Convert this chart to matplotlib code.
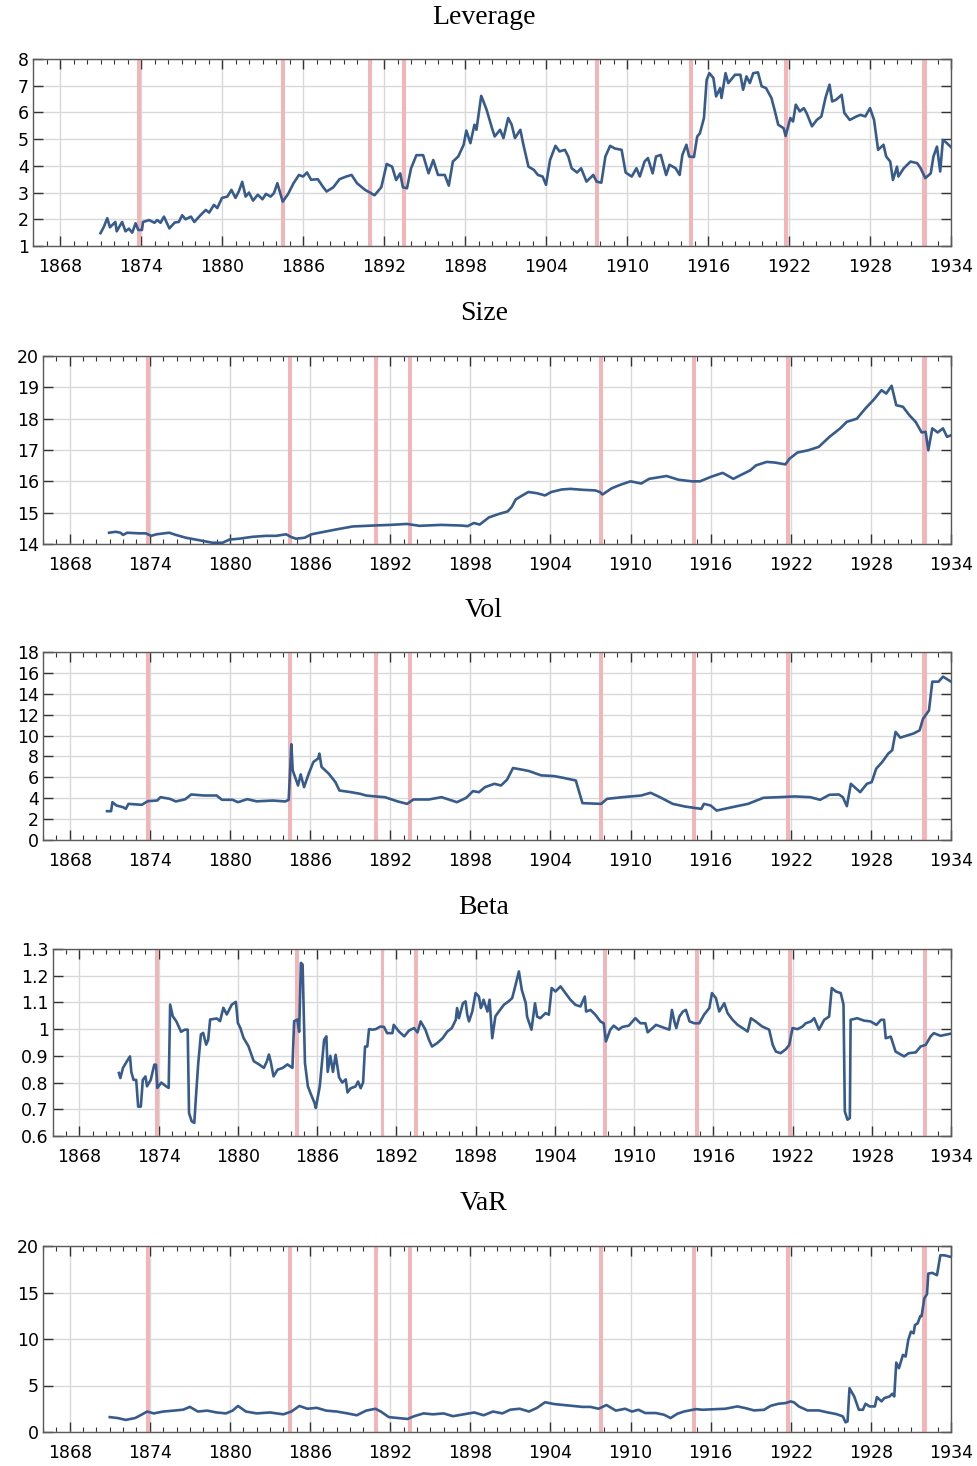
import numpy as np
import matplotlib
matplotlib.use('Agg')
import matplotlib.pyplot as plt
from matplotlib.ticker import MultipleLocator, FuncFormatter

# crisis windows (start, end) in fractional years
crisis_start = [1873.70, 1884.35, 1890.80, 1893.35, 1907.65, 1914.60, 1921.62, 1931.85]
crisis_end   = [1874.02, 1884.65, 1891.10, 1893.65, 1907.95, 1914.90, 1921.95, 1932.22]

# Leverage
lev_year = [1871.0, 1871.25, 1871.5, 1871.7, 1872.1, 1872.2, 1872.6, 1872.85, 1873.1, 1873.35, 1873.6,
            1873.8, 1874.07, 1874.15, 1874.6, 1875.0, 1875.2, 1875.45, 1875.7, 1876.1, 1876.5, 1876.8,
            1877.05, 1877.3, 1877.7, 1877.95, 1878.4, 1878.8, 1879.05, 1879.4, 1879.65, 1880.0, 1880.4,
            1880.7, 1881.0, 1881.25, 1881.5, 1881.75, 1882.0, 1882.3, 1882.65, 1883.0, 1883.25, 1883.6,
            1883.85, 1884.1, 1884.5, 1884.9, 1885.3, 1885.7, 1886.0, 1886.3, 1886.6, 1887.1, 1887.5,
            1887.75, 1888.25, 1888.7, 1889.2, 1889.6, 1890.0, 1890.6, 1890.96, 1891.3, 1891.8, 1892.2,
            1892.6, 1892.9, 1893.2, 1893.4, 1893.7, 1894.0, 1894.4, 1894.9, 1895.3, 1895.65, 1896.0,
            1896.5, 1896.8, 1897.1, 1897.5, 1897.9, 1898.1, 1898.4, 1898.7, 1898.85, 1899.2, 1899.3,
            1899.6, 1900.0, 1900.2, 1900.6, 1900.85, 1901.2, 1901.45, 1901.7, 1902.1, 1902.3, 1902.7,
            1903.1, 1903.4, 1903.75, 1904.0, 1904.3, 1904.7, 1905.0, 1905.4, 1905.65, 1905.9, 1906.3,
            1906.6, 1907.0, 1907.5, 1907.75, 1908.1, 1908.4, 1908.75, 1909.1, 1909.6, 1909.9, 1910.35,
            1910.7, 1910.95, 1911.3, 1911.55, 1911.9, 1912.15, 1912.5, 1912.9, 1913.15, 1913.6, 1913.9,
            1914.1, 1914.4, 1914.6, 1914.96, 1915.2, 1915.4, 1915.7, 1915.9, 1916.1, 1916.4, 1916.6,
            1916.9, 1917.0, 1917.3, 1917.5, 1917.7, 1918.0, 1918.4, 1918.6, 1918.85, 1919.1, 1919.35,
            1919.7, 1919.97, 1920.3, 1920.7, 1920.96, 1921.2, 1921.6, 1921.75, 1922.1, 1922.3, 1922.5,
            1922.8, 1923.1, 1923.3, 1923.7, 1924.06, 1924.4, 1924.7, 1925.0, 1925.2, 1925.5, 1925.9,
            1926.1, 1926.5, 1927.0, 1927.3, 1927.65, 1928.0, 1928.3, 1928.6, 1929.0, 1929.2, 1929.5,
            1929.7, 1930.0, 1930.1, 1930.5, 1931.0, 1931.5, 1931.75, 1932.1, 1932.5, 1932.7, 1932.96,
            1933.2, 1933.4, 1933.7, 1934.0]
lev_val = [1.48, 1.72, 2.04, 1.70, 1.90, 1.55, 1.90, 1.55, 1.65, 1.50, 1.85,
           1.60, 1.60, 1.90, 1.97, 1.87, 1.97, 1.87, 2.10, 1.66, 1.88, 1.90,
           2.15, 2.00, 2.10, 1.90, 2.15, 2.35, 2.25, 2.54, 2.42, 2.80, 2.85,
           3.10, 2.80, 3.05, 3.40, 2.85, 3.00, 2.70, 2.92, 2.75, 2.95, 2.85,
           2.98, 3.35, 2.66, 2.95, 3.35, 3.66, 3.60, 3.75, 3.48, 3.50, 3.20,
           3.04, 3.20, 3.50, 3.60, 3.66, 3.35, 3.10, 3.00, 2.90, 3.20, 4.07,
           3.97, 3.47, 3.72, 3.20, 3.16, 3.90, 4.40, 4.40, 3.72, 4.22, 3.66,
           3.66, 3.26, 4.16, 4.35, 4.79, 5.32, 4.85, 5.54, 5.35, 6.62, 6.50,
           6.10, 5.41, 5.10, 5.35, 5.04, 5.79, 5.55, 5.04, 5.35, 4.85, 3.97,
           3.85, 3.66, 3.60, 3.29, 4.22, 4.75, 4.54, 4.60, 4.35, 3.91, 3.75,
           3.91, 3.41, 3.66, 3.41, 3.37, 4.35, 4.75, 4.65, 4.60, 3.75, 3.60,
           3.91, 3.60, 4.16, 4.29, 3.72, 4.35, 4.41, 3.66, 4.04, 3.91, 3.66,
           4.41, 4.79, 4.35, 4.33, 5.10, 5.22, 5.79, 7.22, 7.47, 7.29, 6.60,
           6.91, 6.54, 7.47, 7.10, 7.22, 7.41, 7.41, 6.85, 7.35, 7.10, 7.47,
           7.50, 6.98, 6.91, 6.54, 6.04, 5.54, 5.41, 5.12, 5.79, 5.66, 6.29,
           6.04, 6.16, 5.98, 5.48, 5.72, 5.85, 6.54, 7.04, 6.41, 6.48, 6.66,
           5.98, 5.72, 5.85, 5.91, 5.85, 6.16, 5.72, 4.60, 4.79, 4.35, 4.16,
           3.47, 3.97, 3.60, 3.91, 4.16, 4.10, 3.91, 3.54, 3.72, 4.35, 4.72,
           3.79, 4.97, 4.85, 4.70]

# Size
size_year = [1870.95, 1871.45, 1871.8, 1872.0, 1872.3, 1873.2, 1873.7, 1874.1, 1874.5, 1875.45, 1875.95,
             1876.7, 1877.7, 1878.7, 1879.45, 1879.95, 1880.7, 1881.7, 1882.7, 1883.45, 1884.2, 1884.6,
             1884.95, 1885.6, 1886.1, 1886.7, 1887.9, 1889.2, 1890.75, 1892.0, 1893.25, 1894.2, 1895.8,
             1897.3, 1897.8, 1898.27, 1898.7, 1899.4, 1900.15, 1900.8, 1901.1, 1901.4, 1901.7, 1902.35,
             1903.0, 1903.6, 1904.07, 1904.85, 1905.5, 1906.4, 1907.36, 1907.7, 1907.9, 1908.6, 1909.24,
             1910.0, 1910.8, 1911.4, 1912.7, 1913.6, 1914.6, 1915.2, 1916.0, 1916.9, 1917.7, 1918.3,
             1918.96, 1919.4, 1920.2, 1920.8, 1921.6, 1921.9, 1922.5, 1923.3, 1924.1, 1924.9, 1925.7,
             1926.2, 1926.95, 1927.6, 1928.2, 1928.8, 1929.15, 1929.55, 1929.9, 1930.4, 1930.9, 1931.35,
             1931.8, 1932.1, 1932.3, 1932.6, 1933.0, 1933.4, 1933.7, 1934.0]
size_val = [14.36, 14.39, 14.36, 14.29, 14.36, 14.34, 14.34, 14.26, 14.31, 14.36, 14.29,
            14.20, 14.12, 14.04, 14.04, 14.14, 14.17, 14.23, 14.26, 14.26, 14.31, 14.22,
            14.17, 14.20, 14.31, 14.36, 14.46, 14.56, 14.59, 14.61, 14.64, 14.58, 14.61,
            14.59, 14.57, 14.67, 14.62, 14.85, 14.96, 15.04, 15.18, 15.42, 15.50, 15.66,
            15.62, 15.55, 15.66, 15.74, 15.76, 15.73, 15.71, 15.66, 15.58, 15.78, 15.89,
            16.00, 15.93, 16.08, 16.17, 16.05, 16.00, 16.00, 16.14, 16.27, 16.08, 16.21,
            16.35, 16.51, 16.62, 16.60, 16.54, 16.72, 16.92, 16.99, 17.10, 17.42, 17.69,
            17.90, 18.00, 18.33, 18.60, 18.91, 18.80, 19.05, 18.43, 18.38, 18.10, 17.90,
            17.56, 17.58, 16.99, 17.69, 17.56, 17.69, 17.42, 17.47]

# Vol
vol_year = [1870.8, 1871.1, 1871.2, 1871.5, 1872.0, 1872.2, 1872.4, 1873.4, 1873.85, 1874.55, 1874.8,
            1875.5, 1875.95, 1876.65, 1877.1, 1878.06, 1879.0, 1879.4, 1880.2, 1880.6, 1881.3, 1882.0,
            1883.2, 1884.14, 1884.4, 1884.6, 1884.7, 1885.1, 1885.3, 1885.55, 1885.9, 1886.25, 1886.6,
            1886.7, 1886.86, 1887.4, 1887.9, 1888.2, 1889.06, 1889.76, 1890.2, 1890.9, 1891.6, 1892.57,
            1893.27, 1893.74, 1894.9, 1895.85, 1897.0, 1897.7, 1898.2, 1898.65, 1899.1, 1899.8, 1900.3,
            1900.75, 1901.2, 1901.9, 1902.4, 1903.3, 1904.27, 1904.97, 1905.9, 1906.4, 1907.8, 1908.24,
            1909.4, 1910.8, 1911.5, 1912.2, 1913.16, 1914.1, 1915.3, 1915.5, 1916.0, 1916.45, 1917.6,
            1918.8, 1919.95, 1921.1, 1922.3, 1923.45, 1924.2, 1924.9, 1925.6, 1925.9, 1926.2, 1926.5,
            1927.2, 1927.7, 1928.06, 1928.4, 1928.85, 1929.3, 1929.6, 1929.85, 1930.2, 1931.2, 1931.65,
            1931.9, 1932.35, 1932.6, 1933.07, 1933.4, 1934.0]
vol_val = [2.76, 2.76, 3.62, 3.30, 3.14, 2.98, 3.46, 3.37, 3.72, 3.78, 4.10,
           3.94, 3.69, 3.90, 4.36, 4.26, 4.26, 3.85, 3.85, 3.62, 3.91, 3.70,
           3.78, 3.69, 3.85, 9.17, 6.67, 5.22, 6.28, 5.06, 6.35, 7.47, 7.80,
           8.27, 7.00, 6.35, 5.54, 4.74, 4.58, 4.42, 4.26, 4.17, 4.10, 3.69,
           3.46, 3.88, 3.88, 4.10, 3.62, 4.04, 4.68, 4.58, 5.06, 5.38, 5.22,
           5.77, 6.89, 6.73, 6.60, 6.19, 6.12, 5.95, 5.70, 3.53, 3.46, 3.94,
           4.10, 4.26, 4.52, 4.10, 3.46, 3.20, 2.98, 3.46, 3.30, 2.82, 3.14,
           3.46, 4.04, 4.10, 4.17, 4.10, 3.85, 4.33, 4.36, 4.10, 3.24, 5.38,
           4.58, 5.38, 5.54, 6.83, 7.47, 8.27, 8.60, 10.35, 9.80, 10.20, 10.50,
           11.60, 12.40, 15.16, 15.16, 15.64, 15.16]

# Beta
beta_year = [1870.99, 1871.1, 1871.3, 1871.6, 1871.83, 1871.93, 1872.1, 1872.3, 1872.45, 1872.65, 1872.8,
             1873.0, 1873.12, 1873.4, 1873.67, 1873.8, 1873.9, 1874.2, 1874.56, 1874.76, 1874.87, 1875.07,
             1875.33, 1875.7, 1875.97, 1876.2, 1876.3, 1876.5, 1876.7, 1876.86, 1877.0, 1877.2, 1877.37,
             1877.6, 1877.75, 1877.9, 1878.4, 1878.65, 1878.9, 1879.16, 1879.54, 1879.85, 1880.0, 1880.18,
             1880.43, 1880.8, 1881.2, 1881.6, 1881.97, 1882.2, 1882.35, 1882.5, 1882.7, 1883.0, 1883.4,
             1883.75, 1884.13, 1884.26, 1884.5, 1884.64, 1884.77, 1884.9, 1885.08, 1885.3, 1885.5, 1885.8,
             1885.9, 1886.2, 1886.53, 1886.7, 1886.8, 1887.0, 1887.2, 1887.4, 1887.66, 1887.9, 1888.17,
             1888.3, 1888.55, 1888.9, 1889.1, 1889.3, 1889.48, 1889.63, 1889.8, 1889.93, 1890.2, 1890.44,
             1890.8, 1891.07, 1891.3, 1891.7, 1891.8, 1892.2, 1892.6, 1892.96, 1893.34, 1893.6, 1893.84,
             1894.2, 1894.47, 1894.7, 1895.1, 1895.5, 1895.86, 1896.2, 1896.5, 1896.6, 1896.74, 1897.04,
             1897.24, 1897.37, 1897.5, 1897.75, 1898.0, 1898.25, 1898.4, 1898.5, 1898.6, 1898.9, 1899.06,
             1899.26, 1899.5, 1899.76, 1900.14, 1900.5, 1900.77, 1901.0, 1901.28, 1901.5, 1901.8, 1901.9,
             1902.23, 1902.5, 1902.66, 1902.9, 1903.3, 1903.55, 1903.76, 1904.05, 1904.43, 1904.8, 1905.18,
             1905.56, 1905.94, 1906.27, 1906.37, 1906.7, 1907.07, 1907.45, 1907.7, 1907.87, 1908.2, 1908.46,
             1908.84, 1909.1, 1909.6, 1910.1, 1910.48, 1910.86, 1911.03, 1911.4, 1911.66, 1912.17, 1912.67,
             1912.87, 1913.05, 1913.2, 1913.43, 1913.7, 1913.93, 1914.2, 1914.56, 1914.94, 1915.3, 1915.7,
             1915.9, 1916.2, 1916.45, 1916.83, 1917.08, 1917.46, 1917.84, 1918.22, 1918.6, 1918.85, 1919.2,
             1919.7, 1920.23, 1920.5, 1920.74, 1921.1, 1921.5, 1921.75, 1922.0, 1922.38, 1922.76, 1923.0,
             1923.4, 1923.64, 1924.0, 1924.4, 1924.77, 1924.97, 1925.28, 1925.65, 1925.86, 1925.96, 1926.16,
             1926.34, 1926.4, 1926.9, 1927.4, 1927.9, 1928.35, 1928.7, 1928.93, 1929.06, 1929.44, 1929.6,
             1929.8, 1930.45, 1930.8, 1931.33, 1931.7, 1932.08, 1932.46, 1932.7, 1933.2, 1933.97]
beta_val = [0.836, 0.817, 0.855, 0.880, 0.898, 0.840, 0.810, 0.810, 0.710, 0.710, 0.810,
            0.823, 0.786, 0.810, 0.867, 0.867, 0.780, 0.800, 0.786, 0.780, 1.092, 1.048,
            1.030, 0.990, 0.998, 0.998, 0.686, 0.655, 0.649, 0.773, 0.873, 0.980, 0.986,
            0.942, 0.960, 1.036, 1.040, 1.030, 1.080, 1.055, 1.092, 1.102, 1.023, 1.005,
            0.967, 0.936, 0.880, 0.868, 0.855, 0.880, 0.905, 0.875, 0.823, 0.848, 0.855,
            0.868, 0.855, 1.030, 1.036, 0.990, 1.248, 1.242, 0.873, 0.786, 0.760, 0.724,
            0.705, 0.786, 0.960, 0.973, 0.840, 0.900, 0.840, 0.904, 0.820, 0.800, 0.812,
            0.763, 0.779, 0.785, 0.804, 0.779, 0.800, 0.935, 0.935, 1.000, 0.998, 1.000,
            1.010, 1.008, 0.985, 0.985, 1.016, 0.991, 0.973, 0.995, 1.004, 0.988, 1.029,
            0.998, 0.960, 0.935, 0.948, 0.966, 0.991, 1.004, 1.035, 1.079, 1.041, 1.097,
            1.104, 1.054, 1.029, 1.066, 1.135, 1.122, 1.079, 1.091, 1.110, 1.066, 1.110,
            0.966, 1.048, 1.066, 1.091, 1.104, 1.116, 1.160, 1.216, 1.147, 1.097, 1.047,
            0.998, 1.097, 1.047, 1.041, 1.060, 1.054, 1.154, 1.141, 1.160, 1.135, 1.110,
            1.091, 1.085, 1.122, 1.066, 1.072, 1.054, 1.029, 1.022, 0.954, 0.998, 1.013,
            0.998, 1.008, 1.013, 1.041, 1.022, 1.022, 0.988, 1.004, 1.016, 1.007, 0.998,
            1.072, 1.029, 1.004, 1.047, 1.066, 1.072, 1.029, 1.022, 1.022, 1.054, 1.079,
            1.135, 1.116, 1.066, 1.097, 1.060, 1.035, 1.016, 1.004, 0.991, 1.041, 1.029,
            1.010, 0.998, 0.941, 0.916, 0.910, 0.925, 0.941, 1.004, 1.000, 1.010, 1.022,
            1.029, 1.041, 0.998, 1.035, 1.047, 1.154, 1.141, 1.135, 1.092, 0.692, 0.661,
            0.667, 1.035, 1.041, 1.032, 1.029, 1.016, 1.035, 1.035, 0.966, 0.972, 0.947,
            0.916, 0.898, 0.910, 0.913, 0.935, 0.941, 0.973, 0.985, 0.975, 0.983]

# VaR
var_year = [1871.0, 1871.6, 1872.2, 1872.9, 1873.3, 1873.8, 1874.3, 1875.0, 1875.8, 1876.5, 1877.0,
            1877.6, 1878.3, 1879.0, 1879.7, 1880.2, 1880.6, 1881.2, 1882.0, 1883.0, 1884.0, 1884.6,
            1885.2, 1885.8, 1886.5, 1887.2, 1888.0, 1888.8, 1889.5, 1890.2, 1890.9, 1891.3, 1891.9,
            1892.6, 1893.3, 1893.8, 1894.5, 1895.2, 1896.0, 1896.7, 1897.5, 1898.3, 1899.0, 1899.7,
            1900.4, 1901.0, 1901.7, 1902.4, 1903.0, 1903.6, 1904.3, 1905.0, 1905.7, 1906.4, 1907.0,
            1907.6, 1908.2, 1908.9, 1909.6, 1910.1, 1910.6, 1911.1, 1911.9, 1912.5, 1913.0, 1913.5,
            1914.0, 1914.9, 1915.4, 1916.4, 1917.1, 1918.0, 1918.6, 1919.25, 1920.0, 1920.5, 1921.1,
            1921.6, 1922.0, 1922.25, 1922.6, 1923.25, 1924.1, 1924.75, 1925.4, 1925.9, 1926.1, 1926.25,
            1926.4, 1926.75, 1927.1, 1927.4, 1927.6, 1927.9, 1928.3, 1928.45, 1928.8, 1929.0, 1929.4,
            1929.6, 1929.75, 1929.9, 1930.1, 1930.4, 1930.6, 1930.8, 1931.0, 1931.2, 1931.3, 1931.5,
            1931.7, 1931.8, 1932.0, 1932.2, 1932.3, 1932.6, 1932.95, 1933.2, 1933.5, 1934.0]
var_val = [1.6, 1.5, 1.3, 1.5, 1.8, 2.2, 2.0, 2.2, 2.3, 2.4, 2.7,
           2.2, 2.3, 2.1, 2.0, 2.3, 2.8, 2.2, 2.0, 2.1, 1.9, 2.2,
           2.8, 2.5, 2.6, 2.3, 2.2, 2.0, 1.8, 2.3, 2.5, 2.2, 1.6,
           1.5, 1.4, 1.7, 2.0, 1.9, 2.0, 1.7, 1.9, 2.1, 1.8, 2.2,
           2.0, 2.4, 2.5, 2.2, 2.6, 3.2, 3.0, 2.9, 2.8, 2.7, 2.7,
           2.5, 2.9, 2.3, 2.5, 2.2, 2.39, 2.04, 2.04, 1.86, 1.50, 1.96,
           2.20, 2.46, 2.39, 2.46, 2.50, 2.75, 2.57, 2.32, 2.39, 2.82, 3.04,
           3.11, 3.29, 3.18, 2.75, 2.32, 2.32, 2.11, 1.93, 1.68, 1.04, 1.14,
           4.71, 3.82, 2.39, 2.39, 3.04, 2.75, 2.75, 3.75, 3.29, 3.64, 3.82,
           4.11, 3.82, 7.46, 6.86, 8.29, 8.11, 9.90, 10.79, 10.61, 11.50, 11.68,
           12.46, 12.46, 14.36, 14.82, 17.04, 17.11, 16.86, 19.00, 19.00, 18.82]

panels = [
    ('Leverage', lev_year, lev_val, (1, 8), 1, [33, 59, 951, 246]),
    ('Size', size_year, size_val, (14, 20), 1, [43, 356, 951, 544]),
    ('Vol', vol_year, vol_val, (0, 18), 2, [43, 652, 951, 840]),
    ('Beta', beta_year, beta_val, (0.6, 1.3), 0.1, [53, 949, 951, 1136]),
    ('VaR', var_year, var_val, (0, 20), 5, [43, 1246, 951, 1432]),
]

W, H = 977, 1466
fig = plt.figure(figsize=(W / 100, H / 100), dpi=100)

line_color = '#375b8b'
band_color = '#f2b6b8'
grid_color = '#d9d9d9'
frame_color = '#5a5a5a'

for title, xs, ys, ylim, ystep, box in panels:
    x0, y0, x1, y1 = box
    ax = fig.add_axes([x0 / W, 1 - y1 / H, (x1 - x0) / W, (y1 - y0) / H])
    ax.set_xlim(1866, 1934)
    ax.set_ylim(*ylim)

    for s, e in zip(crisis_start, crisis_end):
        ax.axvspan(s, e, color=band_color, lw=0, zorder=1)

    ax.plot(xs, ys, color=line_color, lw=1.9, zorder=3, solid_joinstyle='round')

    ax.set_xticks(np.arange(1868, 1935, 6))
    ax.xaxis.set_minor_locator(MultipleLocator(1))
    ax.yaxis.set_major_locator(MultipleLocator(ystep))
    ax.yaxis.set_major_formatter(FuncFormatter(lambda v, p: ('%.1f' % v).rstrip('0').rstrip('.')))

    ax.grid(True, which='major', color=grid_color, lw=1.0, zorder=0)
    ax.set_axisbelow(True)

    ax.tick_params(axis='both', which='both', direction='in', top=True, right=True,
                   colors='#333333', labelcolor='black', labelsize=12.5)
    ax.tick_params(axis='x', which='major', length=7, width=1.0, pad=9)
    ax.tick_params(axis='x', which='minor', length=3.5, width=0.8)
    ax.tick_params(axis='y', which='major', length=7, width=1.0, pad=3)
    for sp in ax.spines.values():
        sp.set_color(frame_color)
        sp.set_linewidth(1.0)

    fig.text(484 / W, 1 - (y0 - 42) / H, title, ha='center', va='center',
             fontsize=20, family='Liberation Serif')

fig.savefig('out.png', dpi=100)
